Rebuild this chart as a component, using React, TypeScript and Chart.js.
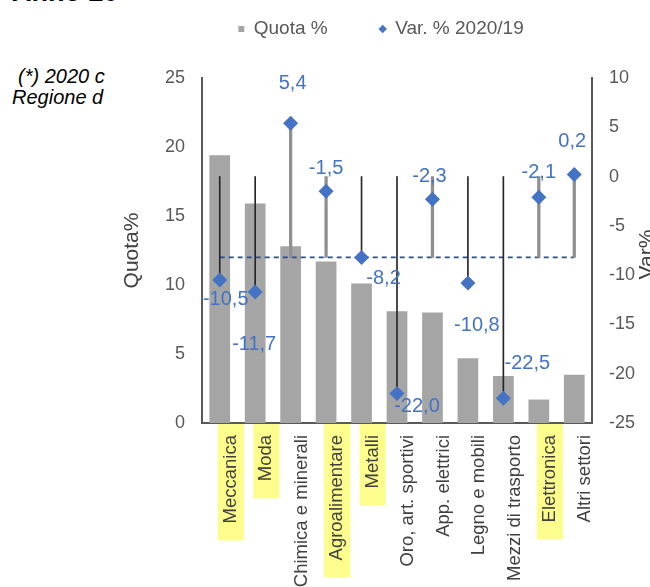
import React, { useEffect, useRef } from 'react';
import { Chart, registerables } from 'chart.js';

Chart.register(...registerables);

// ---------- DATA ----------
const categories = [
  'Meccanica',
  'Moda',
  'Chimica e minerali',
  'Agroalimentare',
  'Metalli',
  'Oro, art. sportivi',
  'App. elettrici',
  'Legno e mobili',
  'Mezzi di trasporto',
  'Elettronica',
  'Altri settori',
];
const quotaValues = [19.4, 15.9, 12.8, 11.7, 10.1, 8.1, 8.0, 4.7, 3.4, 1.7, 3.5];
const varValues = [-10.5, -11.7, 5.4, -1.5, -8.2, -22.0, -2.3, -10.8, -22.5, -2.1, 0.2];
const varTotal = -8.2;
const highlightedCategories = ['Meccanica', 'Moda', 'Agroalimentare', 'Metalli', 'Elettronica'];
const quotaLabel = 'Quota %';
const varLabel = 'Var. % 2020/19';
const leftAxisTitle = 'Quota%';
const rightAxisTitle = 'Var%';

// ---------- STYLE ----------
const FONT = "'Liberation Sans', Arial, Helvetica, sans-serif";
const BAR_COLOR = '#A5A5A5';
const MARKER_COLOR = '#4472C4';
const HIGHLIGHT = '#FDFD8E';
const AXIS_COLOR = '#595959';
const TEXT_COLOR = '#404040';

// label offsets (px) relative to each marker
const labelOffsets: [number, number][] = [
  [6, 19], [-1, 53], [2, -40], [0, -23], [22, 21], [20, 13],
  [-3, -23], [9, 42], [24, -35], [0, -25], [-2, -33],
];

const legendSpacer = {
  id: 'legendSpacer',
  beforeInit(chart: any) {
    const legend = chart.legend;
    if (!legend) return;
    const origFit = legend.fit;
    legend.fit = function () {
      origFit.call(this);
      this.height += 29.5;
    };
  },
};

const valueLabels = {
  id: 'valueLabels',
  afterDatasetsDraw(chart: any) {
    const idx = chart.data.datasets.findIndex((d: any) => d.label === varLabel);
    const meta = chart.getDatasetMeta(idx);
    const ctx = chart.ctx;
    ctx.save();
    ctx.font = `20px ${FONT}`;
    ctx.fillStyle = MARKER_COLOR;
    ctx.textAlign = 'center';
    ctx.textBaseline = 'middle';
    meta.data.forEach((pt: any, i: number) => {
      const [dx, dy] = labelOffsets[i] || [0, -20];
      const txt = varValues[i].toFixed(1).replace('.', ',');
      ctx.fillText(txt, pt.x + dx, pt.y + dy);
    });
    ctx.restore();
  },
};

const rightTitle = {
  id: 'rightTitle',
  afterDraw(chart: any) {
    const s = chart.scales.yV;
    const ca = chart.chartArea;
    const ctx = chart.ctx;
    ctx.save();
    ctx.translate(s.right - 3, (ca.top + ca.bottom) / 2 + 4);
    ctx.rotate(-Math.PI / 2);
    ctx.font = `21px ${FONT}`;
    ctx.fillStyle = TEXT_COLOR;
    ctx.textAlign = 'center';
    ctx.textBaseline = 'middle';
    ctx.fillText(rightAxisTitle, 0, 0);
    ctx.restore();
  },
};

export default function App() {
  const ref = useRef<HTMLCanvasElement | null>(null);

  useEffect(() => {
    if (!ref.current) return;
    Chart.defaults.font.family = FONT;

    const blackLines = varValues.map((v) => (v <= varTotal ? [0, v] : null));
    const grayLines = varValues.map((v) => (v > varTotal ? [Math.max(v, 0), varTotal] : null));
    const totalLine = categories.map(() => varTotal);

    const chart = new Chart(ref.current, {
      type: 'bar',
      data: {
        labels: categories,
        datasets: [
          {
            type: 'bar',
            label: quotaLabel,
            data: quotaValues,
            yAxisID: 'yQ',
            backgroundColor: BAR_COLOR,
            grouped: false,
            categoryPercentage: 1,
            barPercentage: 0.584,
            order: 5,
          } as any,
          {
            type: 'line',
            label: varLabel,
            data: varValues,
            yAxisID: 'yV',
            showLine: false,
            pointStyle: 'rectRot',
            pointRadius: 7.5,
            pointBackgroundColor: MARKER_COLOR,
            pointBorderColor: MARKER_COLOR,
            pointBorderWidth: 0,
            backgroundColor: MARKER_COLOR,
            borderColor: MARKER_COLOR,
            order: 1,
          } as any,
          {
            type: 'bar',
            label: 'lowLines',
            data: blackLines,
            yAxisID: 'yV',
            backgroundColor: '#262626',
            grouped: false,
            barThickness: 1,
            order: 2,
          } as any,
          {
            type: 'bar',
            label: 'highLines',
            data: grayLines,
            yAxisID: 'yV',
            backgroundColor: '#8f8f8f',
            grouped: false,
            barThickness: 2.6,
            order: 3,
          } as any,
          {
            type: 'line',
            label: 'total',
            data: totalLine,
            yAxisID: 'yV',
            borderColor: '#2F4F86',
            borderWidth: 1.6,
            borderDash: [5, 4],
            pointRadius: 0,
            fill: false,
            order: 4,
          } as any,
        ],
      },
      options: {
        responsive: false,
        animation: false,
        devicePixelRatio: 1,
        events: [],
        layout: { padding: { top: -42.5, left: 0, right: 0, bottom: 0 } },
        plugins: {
          tooltip: { enabled: false },
          legend: {
            display: true,
            position: 'top',
            labels: {
              usePointStyle: true,
              boxWidth: 6,
              boxHeight: 6,
              padding: 52,
              color: AXIS_COLOR,
              font: { size: 19, family: FONT },
              generateLabels: () => [
                {
                  text: quotaLabel,
                  fillStyle: BAR_COLOR,
                  strokeStyle: BAR_COLOR,
                  lineWidth: 0,
                  pointStyle: 'rect',
                  datasetIndex: 0,
                  hidden: false,
                  fontColor: AXIS_COLOR,
                },
                {
                  text: varLabel,
                  fillStyle: MARKER_COLOR,
                  strokeStyle: MARKER_COLOR,
                  lineWidth: 0,
                  pointStyle: 'rectRot',
                  datasetIndex: 1,
                  hidden: false,
                  fontColor: AXIS_COLOR,
                },
              ],
            },
          },
        },
        scales: {
          x: {
            offset: true,
            grid: { display: false, drawTicks: false },
            border: { display: true, color: AXIS_COLOR, width: 2 },
            ticks: {
              autoSkip: false,
              minRotation: 90,
              maxRotation: 90,
              padding: 12,
              color: TEXT_COLOR,
              font: { size: 18.5, family: FONT },
              showLabelBackdrop: true,
              backdropColor: (c: any) =>
                highlightedCategories.includes(categories[c.index]) ? HIGHLIGHT : 'rgba(0,0,0,0)',
              backdropPadding: { top: 2, bottom: 2, left: 17, right: 11 },
            } as any,
            afterFit: (s: any) => {
              s.height = 164;
            },
          },
          yQ: {
            type: 'linear',
            position: 'left',
            min: 0,
            max: 25,
            grid: { display: false, drawTicks: false },
            border: { display: true, color: AXIS_COLOR, width: 2 },
            ticks: {
              stepSize: 5,
              padding: 17,
              color: AXIS_COLOR,
              font: { size: 18, family: FONT },
            },
            title: {
              display: true,
              text: leftAxisTitle,
              color: TEXT_COLOR,
              font: { size: 21, family: FONT },
              padding: { top: 8, bottom: 0 },
            },
            afterFit: (s: any) => {
              s.width = 90;
            },
          },
          yV: {
            type: 'linear',
            position: 'right',
            min: -25,
            max: 10,
            grid: { display: false, drawTicks: false },
            border: { display: true, color: AXIS_COLOR, width: 2 },
            ticks: {
              stepSize: 5,
              padding: 17,
              color: AXIS_COLOR,
              font: { size: 18, family: FONT },
            },
            afterFit: (s: any) => {
              s.width = 58;
            },
          },
        },
      } as any,
      plugins: [legendSpacer, valueLabels, rightTitle],
    });

    return () => chart.destroy();
  }, []);

  return (
    <div
      style={{
        position: 'absolute',
        left: 0,
        top: 0,
        width: 650,
        height: 587,
        overflow: 'hidden',
        background: '#fff',
        fontFamily: FONT,
        color: '#000',
      }}
    >
      <div
        style={{
          position: 'absolute',
          left: 12,
          top: -24,
          width: 111,
          overflow: 'hidden',
          whiteSpace: 'nowrap',
          fontWeight: 'bold',
          fontSize: 27,
          lineHeight: '32px',
        }}
      >
        Anno 20
      </div>
      <div
        style={{
          position: 'absolute',
          left: 18,
          top: 65,
          whiteSpace: 'nowrap',
          fontStyle: 'italic',
          fontSize: 20,
          lineHeight: '22px',
        }}
      >
        (*) 2020 c
      </div>
      <div
        style={{
          position: 'absolute',
          left: 12,
          top: 86,
          whiteSpace: 'nowrap',
          fontStyle: 'italic',
          fontSize: 20,
          lineHeight: '22px',
        }}
      >
        Regione d
      </div>
      <canvas
        ref={ref}
        width={538}
        height={577}
        style={{ position: 'absolute', left: 112, top: 10, width: 538, height: 577, background: '#fff' }}
      />
    </div>
  );
}
